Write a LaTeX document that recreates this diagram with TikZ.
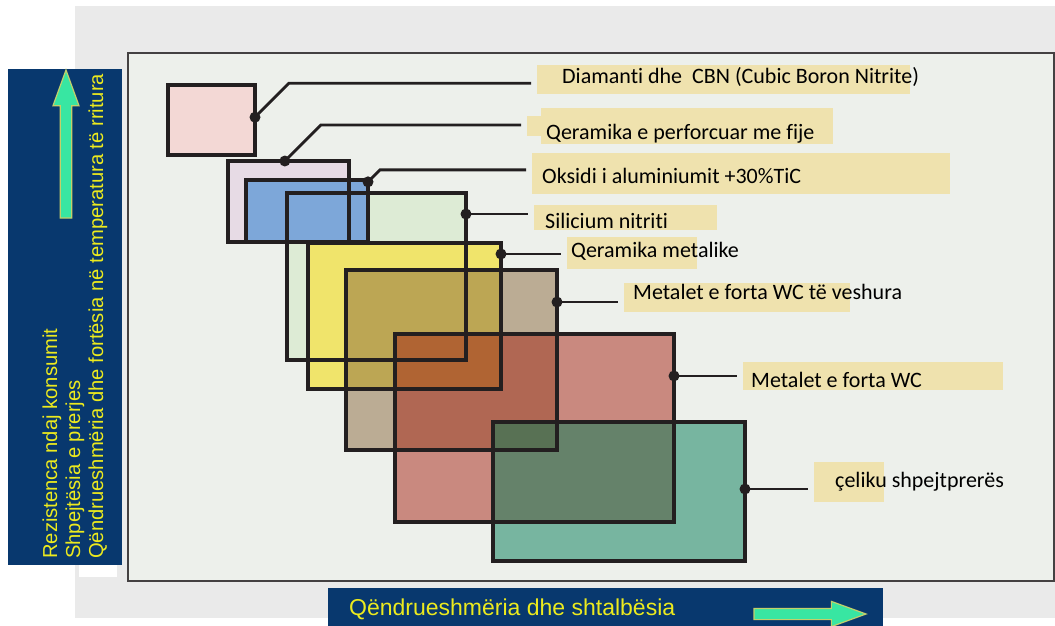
\documentclass[tikz,border=0pt]{standalone}
\usepackage{fontspec}
\setmainfont{Carlito}[Ligatures=NoCommon]
\newfontfamily\barfont{Liberation Sans}
\usepackage{tikz}
\usetikzlibrary{calc,shapes.arrows}
\definecolor{navyBar}{HTML}{08386E}
\definecolor{barText}{HTML}{ECEA1E}
\definecolor{mintArrow}{HTML}{38E6A2}
\definecolor{mintEdge}{HTML}{C4CF6A}
\definecolor{patchO}{HTML}{EFE2AE}
\definecolor{bgGrey}{HTML}{EAEAEA}
\definecolor{bgChart}{HTML}{EDF0EB}
\definecolor{inkK}{HTML}{231F20}
\definecolor{pinkR}{HTML}{F3D8D5}
\definecolor{lilacR}{HTML}{E7DBE5}
\definecolor{blueR}{HTML}{7DA7D9}
\definecolor{greenR}{HTML}{DDEBD5}
\definecolor{yellowR}{HTML}{F0E46B}
\definecolor{tanR}{RGB}{138,106,62}
\definecolor{redR}{RGB}{166,36,20}
\definecolor{tealR}{RGB}{2,124,86}

\begin{document}
\begin{tikzpicture}[x=1pt, y=-1pt,
    plate/.style={rectangle, inner sep=0pt, outer sep=0pt},
    see/.style={fill opacity=0.5},
    rim/.style={draw=inkK, line width=4pt},
    lead/.style={draw=inkK, line width=2.8pt, shorten >=6pt},
    patch/.style={rectangle, fill=patchO, inner sep=0pt, outer sep=0pt},
    lbl/.style={inner sep=0pt, anchor=base west, font=\fontsize{22}{26}\selectfont},
    bar/.style={rectangle, fill=navyBar, inner sep=0pt, outer sep=0pt},
    bartext/.style={inner sep=0pt, text=barText, font=\barfont\fontsize{20.2}{24}\selectfont},
    hint/.style={single arrow, fill=mintArrow, draw=mintEdge, line width=1.2pt, inner sep=5pt, outer sep=0pt,
        single arrow head extend=7pt, single arrow tip angle=40, anchor=tip}
]
\useasboundingbox (0,0) rectangle (1055,626);
\fill[bgGrey] (75,6) rectangle (1055,618);
\fill[bgChart] (128,53) rectangle (1054,581);

% axes
\node[bar, minimum width=114, minimum height=496] (yaxis) at (65,317) {};
\fill[white] (79,565) rectangle (117,577);
\node[bartext, rotate=90, anchor=base west] (yline1) at (57,559) {Rezistenca ndaj konsumit};
\node[bartext, rotate=90, anchor=base west] (yline2) at (80,559) {Shpejtësia e prerjes};
\node[bartext, rotate=90, anchor=base west] (yline3) at (103,559) {Qëndrueshmëria dhe fortësia në temperatura të rritura};
\node[hint, rotate=90, minimum height=148, minimum width=26] (yarrow) at (66,70) {};

\node[bar, minimum width=555, minimum height=38] (xaxis) at (605.5,607) {};
\node[bartext, anchor=base west, font=\barfont\fontsize{23}{27}\selectfont] (xline) at (349,615) {Qëndrueshmëria dhe shtalbësia};
\node[hint, minimum height=112, minimum width=24] (xarrow) at (866,614) {};

% materials
\node[plate, fill=pinkR, minimum width=87, minimum height=70] (diam) at (211.5,120) {};
\node[plate, fill=lilacR, minimum width=121, minimum height=81] (perf) at (288.5,201.5) {};
\node[plate, fill=greenR, minimum width=179, minimum height=167] (silic) at (376.5,276.5) {};
\node[plate, fill=blueR, minimum width=122, minimum height=62] (oks) at (307,211) {};
\node[plate, fill=yellowR, minimum width=193, minimum height=146] (cermet) at (404.5,316) {};
\node[plate, fill=tanR, see, minimum width=211, minimum height=180] (coated) at (451.5,360) {};
\node[plate, fill=redR, see, minimum width=279, minimum height=188] (hardm) at (534.5,428) {};
\node[plate, fill=tealR, see, minimum width=252, minimum height=139] (hss) at (619,491.5) {};
\foreach \n in {diam,perf,oks,silic,cermet,coated,hardm,hss}
    \draw[rim] (\n.north west) rectangle (\n.south east);

% labels
\node[patch, minimum width=373, minimum height=29] (diamB) at (723.5,79.5) {};
\node[patch, minimum width=292, minimum height=36] (perfB) at (687,126) {};
\node[patch, minimum width=14, minimum height=20, anchor=east] (perfTab) at (perfB.west) {};
\node[patch, minimum width=418, minimum height=41] (oksB) at (741,173.5) {};
\node[patch, minimum width=183, minimum height=25] (silicB) at (625.5,217.5) {};
\node[patch, minimum width=130, minimum height=32] (cermetB) at (632,253) {};
\node[patch, minimum width=226, minimum height=29] (coatedB) at (737,297.5) {};
\node[patch, minimum width=260, minimum height=28] (hardmB) at (873,376) {};
\node[patch, minimum width=70, minimum height=40] (hssB) at (849,482) {};

\node[lbl] (diamT) at (562,84) {Diamanti dhe\ \ CBN (Cubic Boron Nitrite)};
\node[lbl] (perfT) at (546,139) {Qeramika e perforcuar me fije};
\node[lbl] (oksT) at (542,183) {Oksidi i aluminiumit +30\%TiC};
\node[lbl] (silicT) at (545,228) {Silicium nitriti};
\node[lbl] (cermetT) at (571,257) {Qeramika metalike};
\node[lbl] (coatedT) at (633,299) {Metalet e forta WC të veshura};
\node[lbl] (hardmT) at (751,387) {Metalet e forta WC};
\node[lbl] (hssT) at (835,487) {çeliku shpejtprerës};

% leaders
\coordinate (d1) at ($(diam.north east)!.46!(diam.south east)$);
\coordinate (d2) at ($(perf.north west)!.47!(perf.north east)$);
\coordinate (d3) at ($(oks.north east)!.03!(oks.south east)$);
\coordinate (d4) at ($(silic.north east)!.126!(silic.south east)$);
\coordinate (d5) at ($(cermet.north east)!.075!(cermet.south east)$);
\coordinate (d6) at ($(coated.north east)!.178!(coated.south east)$);
\coordinate (d7) at ($(hardm.north east)!.223!(hardm.south east)$);
\coordinate (d8) at ($(hss.north east)!.482!(hss.south east)$);
\draw[lead] (d1) -- ++(34,-34) coordinate (k1) -- (k1 -| diamB.west);
\draw[lead] (d2) -- ++(36,-36) coordinate (k2) -- (k2 -| perfTab.west);
\draw[lead] (d3) -- ++(12,-12) coordinate (k3) -- (k3 -| oksB.west);
\foreach \i/\b in {4/silicB,5/cermetB,6/coatedB,7/hardmB,8/hssB}
    \draw[lead] (d\i) -- (d\i -| \b.west);
\foreach \i in {1,...,8}
    \fill[inkK] (d\i) circle (5.5pt);

\draw[inkK!85, line width=1.5pt] (128,53) rectangle (1054,581);
\end{tikzpicture}
\end{document}
